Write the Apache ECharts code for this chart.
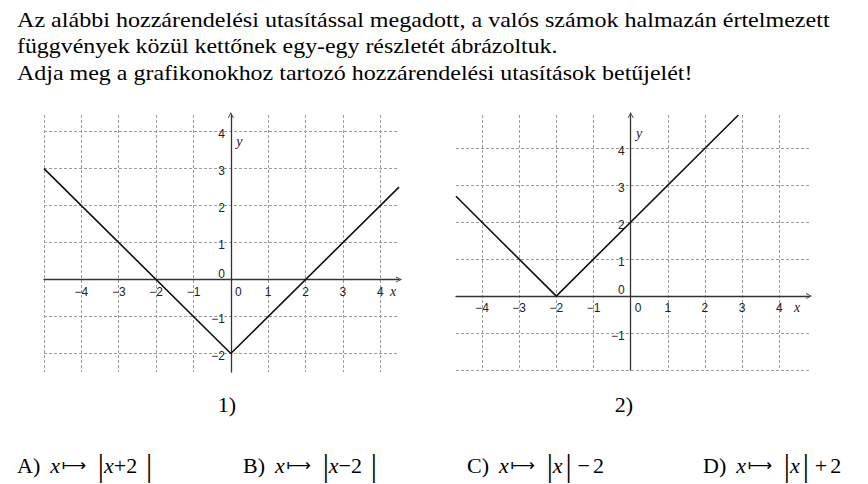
<!DOCTYPE html>
<html><head><meta charset="utf-8">
<script src="https://cdn.jsdelivr.net/npm/echarts@6/dist/echarts.min.js"></script>
<style>html,body{margin:0;padding:0;background:#fff}#c{width:868px;height:484px}</style>
</head><body><div id="c"></div>
<script>
// ---- texts ----
const titleLines = [
  'Az alábbi hozzárendelési utasítással megadott, a valós számok halmazán értelmezett',
  'függvények közül kettőnek egy-egy részletét ábrázoltuk.',
  'Adja meg a grafikonokhoz tartozó hozzárendelési utasítások betűjelét!'
];
const graphLabels = ['1)', '2)'];
const answerLetters = ['A)', 'B)', 'C)', 'D)'];
const answerBodies = [
  '{b||}{i|x}{u|+2}{g3| }{b||}',
  '{b||}{i|x}{u|\u22122}{g3| }{b||}',
  '{b||}{i|x}{g4| }{b||}{g5| }{u|\u2212}{g4| }{u|2}',
  '{b||}{i|x}{g4| }{b||}{g5| }{u|+}{g4| }{u|2}'
];
const axisNames = ['x', 'y'];
// ---- graph 1 data ----
const g1X = [-5, 0, 4.5];
const g1Y = [3, -2, 2.5];
const g1XRange = [-5, 4.5];
const g1YRange = [-2.5, 4.45];
// ---- graph 2 data ----
const g2X = [-4.7, -2, 2.9];
const g2Y = [2.7, 0, 4.9];
const g2XRange = [-4.7, 4.8];
const g2YRange = [-2, 4.9];

const SANS = 'Liberation Sans, Arial, sans-serif';
const SERIF = 'Liberation Serif, Times New Roman, serif';
const chevron = 'path://M0,10 L5,0 L10,10 L8.6,10 L5,2.8 L1.4,10 Z';

function tickFmt(v) {
  if (Math.abs(v) < 1e-9) return '{z|0}';
  return (v < 0 ? '\u2212' : '') + Math.abs(v);
}
const splitStyle = { show: true, lineStyle: { color: '#9c9c9c', width: 1, type: [3, 2] } };
const axisLineStyle = { show: true, onZero: false, symbol: ['none', chevron], symbolSize: [8, 6],
  lineStyle: { color: '#333', width: 1.3 } };

function xAxisDef(gi, range, keepMinLine) {
  return {
    type: 'value', gridIndex: gi, min: range[0], max: range[1], minInterval: 1, maxInterval: 1,
    position: 'bottom', offset: 0,
    axisLine: axisLineStyle, axisTick: { show: false },
    splitLine: Object.assign({}, splitStyle, { showMinLine: keepMinLine, showMaxLine: false }),
    axisLabel: { show: true, margin: 6, showMinLabel: false, showMaxLabel: false, formatter: tickFmt,
      color: '#222', fontFamily: SANS, fontSize: 12,
      rich: { z: { color: '#222', fontFamily: SANS, fontSize: 12, padding: [0, 0, 0, 15] } } }
  };
}
function yAxisDef(gi, range, keepMinLine) {
  return {
    type: 'value', gridIndex: gi, min: range[0], max: range[1], minInterval: 1, maxInterval: 1,
    position: 'left', offset: 0,
    axisLine: axisLineStyle, axisTick: { show: false },
    splitLine: Object.assign({}, splitStyle, { showMinLine: keepMinLine, showMaxLine: false }),
    axisLabel: { show: true, margin: 6, showMinLabel: false, showMaxLabel: false, formatter: tickFmt,
      color: '#222', fontFamily: SANS, fontSize: 12, padding: [5, 0, 0, 0],
      rich: { z: { color: '#222', fontFamily: SANS, fontSize: 12, padding: [0, 0, 17, 0] } } }
  };
}
function zip(xs, ys) { return xs.map((x, i) => [x, ys[i]]); }

// title lines stretched to the reference line widths
const titleWidths = [813, 541, 676];
const measureCtx = document.createElement('canvas').getContext('2d');
measureCtx.font = '22px "Liberation Serif"';
const graphics = [];
const titleY = [19, 46, 72.5];
titleLines.forEach((t, i) => {
  const w = measureCtx.measureText(t).width;
  graphics.push({ type: 'text', x: 17, y: titleY[i], scaleX: titleWidths[i] / w,
    style: { text: t, fontFamily: SERIF, fontSize: 22, fill: '#000', verticalAlign: 'middle' } });
});
const labelX = [227, 624];
graphLabels.forEach((t, i) => graphics.push({ type: 'text', x: labelX[i], y: 404,
  style: { text: t, fontFamily: SERIF, fontSize: 22, fill: '#000', align: 'center', verticalAlign: 'middle' } }));
const answerX = [17, 243, 467, 703];
const base = { fill: '#000', color: '#000', verticalAlign: 'middle' };
const rich = {
  u: Object.assign({ fontFamily: SERIF, fontSize: 22 }, base),
  i: Object.assign({ fontFamily: SERIF, fontSize: 22, fontStyle: 'italic' }, base),
  a: Object.assign({ fontFamily: 'DejaVu Sans', fontSize: 17, width: 28, align: 'center' }, base),
  b: Object.assign({ fontFamily: SERIF, fontSize: 31, width: 6, align: 'center' }, base),
  g: Object.assign({ fontFamily: SERIF, fontSize: 22, width: 10 }, base),
  g2: Object.assign({ fontFamily: SERIF, fontSize: 22, width: 10 }, base),
  g3: Object.assign({ fontFamily: SERIF, fontSize: 22, width: 9 }, base),
  g4: Object.assign({ fontFamily: SERIF, fontSize: 22, width: 3 }, base),
  g5: Object.assign({ fontFamily: SERIF, fontSize: 22, width: 6 }, base)
};
answerLetters.forEach((l, i) => graphics.push({ type: 'text', x: answerX[i], y: 465,
  style: { text: '{u|' + l + '}{g| }{i|x}{a|\u27fc}{g2| }' + answerBodies[i], rich: rich, verticalAlign: 'middle' } }));

const chart = echarts.init(document.getElementById('c'), null, { renderer: 'svg' });
const option = {
  animation: false,
  backgroundColor: '#fff',
  grid: [
    { left: 44, top: 115, width: 355, height: 257 },
    { left: 456, top: 115, width: 353, height: 255 }
  ],
  xAxis: [xAxisDef(0, g1XRange, true), xAxisDef(1, g2XRange, false)],
  yAxis: [yAxisDef(0, g1YRange, false), yAxisDef(1, g2YRange, true)],
  series: [
    { type: 'line', xAxisIndex: 0, yAxisIndex: 0, data: zip(g1X, g1Y), symbol: 'none',
      lineStyle: { color: '#111', width: 1.6 }, clip: true },
    { type: 'line', xAxisIndex: 1, yAxisIndex: 1, data: zip(g2X, g2Y), symbol: 'none',
      lineStyle: { color: '#111', width: 1.6 }, clip: true }
  ],
  graphic: graphics
};
chart.setOption(option);

// move axes onto the zero lines using the library's own scales
const ranges = [[g1XRange, g1YRange], [g2XRange, g2YRange]];
const nameShift = [{ xdx: -6, ydy: 26 }, { xdx: -12, ydy: 18 }];
const extra = [];
ranges.forEach((r, gi) => {
  const zero = chart.convertToPixel({ gridIndex: gi }, [0, 0]);
  const lo = chart.convertToPixel({ gridIndex: gi }, [r[0][0], r[1][0]]);
  const hi = chart.convertToPixel({ gridIndex: gi }, [r[0][1], r[1][1]]);
  option.xAxis[gi].offset = -(lo[1] - zero[1]);
  option.yAxis[gi].offset = -(zero[0] - lo[0]);
  extra.push({ type: 'text', x: hi[0] + nameShift[gi].xdx, y: zero[1] + 11.5,
    style: { text: axisNames[0], fontFamily: SERIF, fontStyle: 'italic', fontSize: 14, fill: '#222',
      align: 'center', verticalAlign: 'middle' } });
  extra.push({ type: 'text', x: zero[0] + 8.5, y: hi[1] + nameShift[gi].ydy,
    style: { text: axisNames[1], fontFamily: SERIF, fontStyle: 'italic', fontSize: 14, fill: '#222',
      align: 'center', verticalAlign: 'middle' } });
});
option.graphic = graphics.concat(extra);
chart.setOption(option, true);
</script></body></html>
